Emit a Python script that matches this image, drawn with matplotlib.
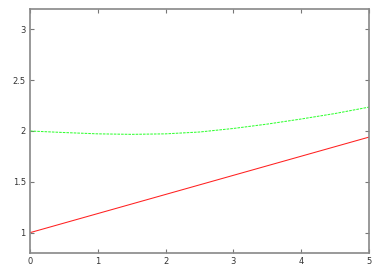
import matplotlib
matplotlib.use("Agg")
import matplotlib.pyplot as plt

x_red = [0, 5]
y_red = [1.0, 1.94]
x_green = [0, 0.5, 1, 1.5, 2, 2.5, 3, 3.5, 4, 4.5, 5]
y_green = [2.0, 1.985, 1.972, 1.967, 1.972, 1.99, 2.025, 2.068, 2.118, 2.172, 2.235]
xticks = [0, 1, 2, 3, 4, 5]
yticks = [1, 1.5, 2, 2.5, 3]
ytick_labels = ["1", "1.5", "2", "2.5", "3"]

fig = plt.figure(figsize=(3.83, 2.68), dpi=100)
ax = fig.add_axes([30/383, 15/268, 339/383, 244/268])
ax.plot(x_red, y_red, color="#ff2020", lw=0.75)
ax.plot(x_green, y_green, color="#33ff33", lw=0.75, ls=(0, (2.5, 1)))
ax.set_xlim(0, 5)
ax.set_ylim(0.8, 3.2)
ax.set_xticks(xticks)
ax.set_yticks(yticks)
ax.set_yticklabels(ytick_labels)
ax.tick_params(direction="in", top=True, right=True, length=3, width=0.8,
               color="#777777", labelsize=6, pad=3, labelcolor="#333333")
for s in ax.spines.values():
    s.set_color("#888888")
    s.set_linewidth(1.2)
fig.savefig("out.png", dpi=100)
